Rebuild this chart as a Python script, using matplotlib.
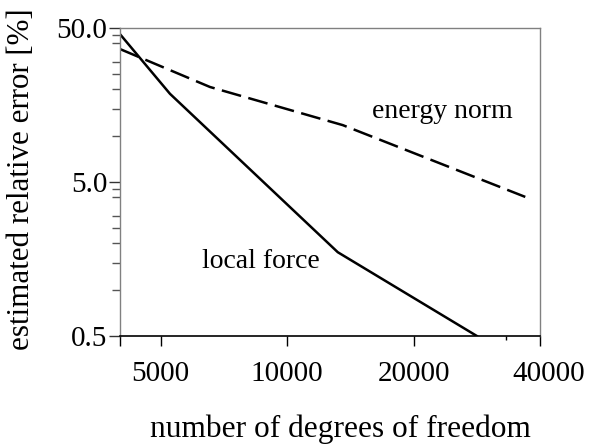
import matplotlib
matplotlib.use("Agg")
import matplotlib.pyplot as plt
import matplotlib.transforms as mtransforms
from matplotlib.ticker import FixedLocator, NullFormatter

# --- data (log-log) ---
dof_force = [4000, 5260, 13200, 28300]
err_force = [45.6, 18.7, 1.75, 0.5]

dof_energy = [4000, 6550, 13570, 36900]
err_energy = [36.5, 20.7, 11.7, 4.0]

x_ticks = [5000, 10000, 20000, 40000]
x_tick_labels = ["5000", "10000", "20000", "40000"]
y_ticks = [0.5, 5.0, 50.0]
y_tick_labels = ["0.5", "5.0", "50.0"]
y_minor = [1.0, 1.5, 2.0, 2.5, 3.0, 4.0, 4.5, 10, 15, 20, 25, 30, 40, 45]

plt.rcParams["font.family"] = ["Liberation Serif", "DejaVu Serif"]

fig = plt.figure(figsize=(5.97, 4.46), dpi=100)
ax = fig.add_axes([120 / 597, 110 / 446, 420 / 597, 308 / 446])

ax.plot(dof_force, err_force, color="black", lw=1.8, solid_joinstyle="miter")
ax.plot(dof_energy, err_energy, color="black", lw=1.8, dashes=(8, 3))

ax.set_xscale("log")
ax.set_yscale("log")
ax.set_xlim(4000, 40000)
ax.set_ylim(0.5, 50)

# axis frame: grey box, black bottom
for side in ["left", "top", "right"]:
    ax.spines[side].set_color("#808080")
    ax.spines[side].set_linewidth(1.0)
ax.spines["bottom"].set_color("black")
ax.spines["bottom"].set_linewidth(1.2)

ax.xaxis.set_major_locator(FixedLocator([4000] + x_ticks))
ax.set_xticklabels([""] + x_tick_labels)
ax.xaxis.set_minor_locator(FixedLocator([33200]))
ax.xaxis.set_minor_formatter(NullFormatter())
ax.tick_params(axis="x", which="major", direction="out", length=7, width=1.0,
               color="black", labelsize=21, pad=11)
ax.tick_params(axis="x", which="minor", direction="out", length=3, width=1.0,
               color="black")

# last label sits a little right of its tick in the reference
last = ax.get_xticklabels()[-1]
last.set_transform(last.get_transform() +
                   mtransforms.ScaledTranslation(9 / 100, 0, fig.dpi_scale_trans))

ax.yaxis.set_major_locator(FixedLocator(y_ticks))
ax.set_yticklabels(y_tick_labels)
ax.yaxis.set_minor_locator(FixedLocator(y_minor))
ax.yaxis.set_minor_formatter(NullFormatter())
ax.tick_params(axis="y", which="major", direction="out", length=8, width=1.0,
               color="#333333", labelsize=21, pad=1)
ax.tick_params(axis="y", which="minor", direction="out", length=6, width=1.0,
               color="#555555")

ax.set_xlabel("number of degrees of freedom", fontsize=22.6)
ax.xaxis.set_label_coords(0.526, -0.255)
ax.set_ylabel("estimated relative error [%]", fontsize=22.3)
ax.yaxis.set_label_coords(-0.2, 0.51)

ax.text(0.195, 0.22, "local force", transform=ax.transAxes, fontsize=20,
        ha="left", va="baseline")
ax.text(0.6, 0.708, "energy norm", transform=ax.transAxes, fontsize=20,
        ha="left", va="baseline")

fig.savefig("out.png", dpi=100)
